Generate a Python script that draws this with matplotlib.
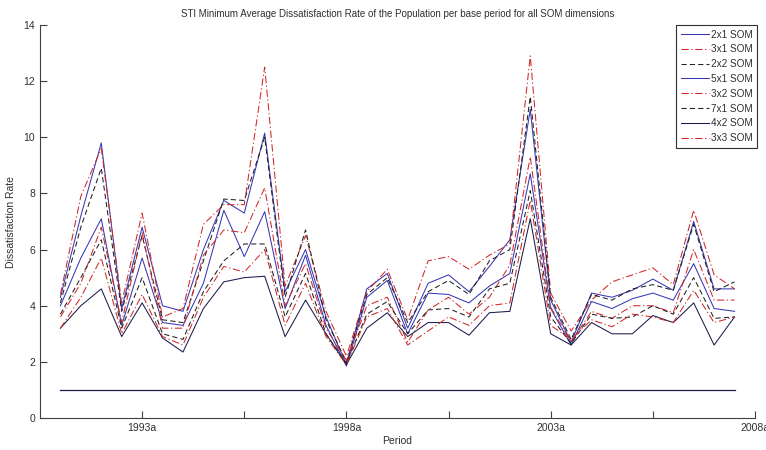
import matplotlib
matplotlib.use('Agg')
import matplotlib.pyplot as plt

plt.rcParams['font.family'] = ['Liberation Sans', 'DejaVu Sans']

# Periods: half years 1991a .. 2007b, plotted at index 1..34
n_periods = 34
tick_pos = [5, 10, 15, 20, 25, 30, 35]
tick_labels = ['1993a', '', '1998a', '', '2003a', '', '2008a']

som_2x1 = [4.3, 7.2, 9.8, 3.9, 6.8, 4.0, 3.8, 6.0, 7.75, 7.3, 10.15, 4.5, 6.0, 3.6, 1.9, 4.6, 5.15,
           3.2, 4.8, 5.1, 4.5, 5.4, 6.35, 11.0, 4.2, 2.7, 4.45, 4.3, 4.55, 4.95, 4.55, 7.0, 4.6, 4.6]
som_3x1 = [4.4, 7.9, 9.6, 4.1, 7.3, 3.6, 3.9, 6.9, 7.6, 7.6, 12.5, 4.7, 6.5, 3.8, 2.2, 4.5, 5.3,
           3.5, 5.6, 5.75, 5.3, 5.8, 6.2, 12.9, 4.45, 3.1, 4.2, 4.85, 5.1, 5.35, 4.75, 7.4, 5.1, 4.6]
som_2x2 = [4.1, 6.8, 8.9, 3.8, 6.5, 3.5, 3.4, 5.6, 7.8, 7.75, 10.0, 4.3, 6.7, 3.5, 2.0, 4.4, 5.0,
           3.4, 4.5, 4.9, 4.4, 5.6, 6.0, 11.45, 4.3, 2.8, 4.4, 4.2, 4.6, 4.75, 4.55, 6.9, 4.5, 4.85]
som_5x1 = [4.0, 5.7, 7.1, 3.3, 5.7, 3.4, 3.3, 4.8, 7.4, 5.75, 7.35, 3.9, 5.8, 3.3, 1.85, 4.3, 4.9,
           3.0, 4.45, 4.4, 4.1, 4.7, 5.15, 8.7, 3.9, 2.6, 4.15, 3.9, 4.25, 4.45, 4.2, 5.5, 3.9, 3.8]
som_3x2 = [3.6, 4.8, 6.8, 3.4, 6.6, 3.2, 3.2, 5.8, 6.7, 6.6, 8.2, 4.0, 5.5, 3.2, 2.05, 4.0, 4.3,
           2.7, 3.85, 4.3, 3.7, 4.3, 5.45, 9.3, 3.95, 2.7, 3.8, 3.55, 4.0, 4.0, 3.75, 6.0, 4.2, 4.2]
som_7x1 = [3.7, 5.0, 6.35, 3.2, 5.0, 3.0, 2.8, 4.5, 5.6, 6.2, 6.2, 3.6, 5.15, 3.0, 1.95, 3.7, 4.15,
           3.0, 3.85, 3.9, 3.6, 4.6, 4.8, 8.1, 3.6, 2.65, 3.7, 3.55, 3.6, 4.0, 3.7, 5.0, 3.55, 3.6]
som_4x2 = [3.2, 4.0, 4.6, 2.9, 4.1, 2.85, 2.35, 3.9, 4.85, 5.0, 5.05, 2.9, 4.2, 3.0, 1.9, 3.2, 3.75,
           2.9, 3.4, 3.4, 2.95, 3.75, 3.8, 7.1, 3.0, 2.6, 3.4, 3.0, 3.0, 3.65, 3.4, 4.1, 2.6, 3.6]
som_3x3 = [3.2, 4.3, 5.7, 3.0, 4.4, 2.9, 2.6, 4.3, 5.4, 5.2, 6.0, 3.3, 4.8, 2.9, 1.9, 3.6, 3.9,
           2.6, 3.1, 3.6, 3.3, 4.0, 4.1, 7.75, 3.3, 2.8, 3.5, 3.25, 3.7, 3.6, 3.4, 4.55, 3.4, 3.6]
reference_level = 1.0

blue = '#3838b4'
red = '#d02828'
black = '#202020'
navy = '#1c1c4c'
dashdot = (0, (7, 2.5, 1.2, 2.5))
dashed = (0, (5, 3))

series = [
    ('2x1 SOM', som_2x1, blue, '-'),
    ('3x1 SOM', som_3x1, red, dashdot),
    ('2x2 SOM', som_2x2, black, dashed),
    ('5x1 SOM', som_5x1, blue, '-'),
    ('3x2 SOM', som_3x2, red, dashdot),
    ('7x1 SOM', som_7x1, black, dashed),
    ('4x2 SOM', som_4x2, navy, '-'),
    ('3x3 SOM', som_3x3, red, dashdot),
]

x = list(range(1, n_periods + 1))

fig = plt.figure(figsize=(7.66, 4.5), dpi=100)
ax = fig.add_axes([0.0522, 0.0711, 0.9334, 0.8733])

for label, values, color, style in series:
    ax.plot(x, values, color=color, linestyle=style, linewidth=0.75, label=label)

ax.plot(x, [reference_level] * n_periods, color=navy, linewidth=0.9)

ax.set_xlim(0, 35)
ax.set_ylim(0, 14)
ax.set_xticks(tick_pos)
ax.set_xticklabels(tick_labels)
ax.set_yticks(range(0, 15, 2))

# MATLAB-like look: box off, ticks inside
for side in ['top', 'right']:
    ax.spines[side].set_visible(False)
for side in ['left', 'bottom']:
    ax.spines[side].set_color('#404040')
    ax.spines[side].set_linewidth(0.8)
ax.tick_params(direction='in', length=5, width=0.8, colors='#404040',
               labelsize=7.5, labelcolor='#303030')

ax.set_title('STI Minimum Average Dissatisfaction Rate of the Population per base period for all SOM dimensions',
             fontsize=7, color='#303030', pad=6)
ax.set_xlabel('Period', fontsize=7.5, color='#303030', labelpad=2)
ax.set_ylabel('Dissatisfaction Rate', fontsize=7.5, color='#303030', labelpad=5)

leg = ax.legend(loc='upper right', bbox_to_anchor=(1.003, 1.0), borderaxespad=0,
                fontsize=7.2, fancybox=False, framealpha=1, edgecolor='#303030',
                handlelength=2.8, handletextpad=0.2, labelspacing=0.48,
                borderpad=0.45, markerfirst=True)
leg.get_frame().set_linewidth(0.8)
for text in leg.get_texts():
    text.set_color('#303030')

fig.savefig('out.png', dpi=100)
